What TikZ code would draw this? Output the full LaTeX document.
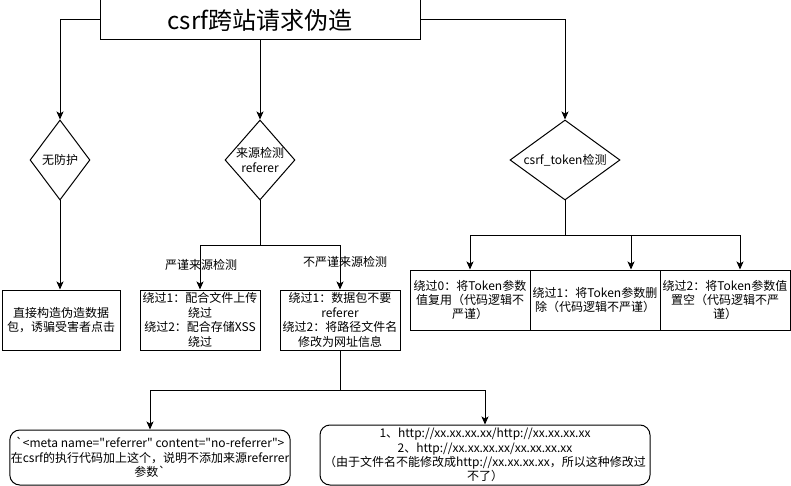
\documentclass[tikz,border=0pt]{standalone}
\usepackage{fontspec}
\setmainfont{Noto Sans CJK SC}[Ligatures=TeXOff]
\usepackage{tikz}
\usetikzlibrary{shapes.geometric,arrows.meta}
\tikzset{
	every node/.style = {
		font=\fontsize{12}{14.4}\selectfont,
		align=center,
		inner sep=1pt
	},
	box/.style = {
		shape=rectangle,
		draw,
		line width=1pt,
		minimum height=60pt
	},
	roundbox/.style = {box, rounded corners=10pt},
	decision/.style = {
		shape=diamond,
		draw,
		line width=1pt,
		inner sep=0pt,
		minimum height=80pt
	},
	link/.style = {line width=1pt, -{Stealth[length=8pt,width=7pt,inset=2pt]}},
	branch/.style = {line width=1pt}
}

\begin{document}
\begin{tikzpicture}[x=1pt, y=-1pt]
	\useasboundingbox (0,0) rectangle (791,486);
	\node[box, minimum width=320pt, minimum height=40pt, font=\fontsize{24}{28}\selectfont] (title) at (260,20) {csrf跨站请求伪造};
	\node[decision, minimum width=60pt, label=center:无防护] (noguard) at (60,160) {};
	\node[decision, minimum width=70pt, label={[align=center]center:来源检测\\referer}] (referer) at (260,160) {};
	\node[decision, minimum width=110pt, label=center:csrf\_token检测] (token) at (565,160) {};
	\node[box, minimum width=118pt] (direct) at (61,320) {直接构造伪造数据\\包，诱骗受害者点击};
	\node[box, minimum width=120pt] (strict) at (200,320) {绕过1：配合文件上传\\绕过\\绕过2：配合存储XSS\\绕过};
	\node[box, minimum width=120pt] (loose) at (340,320) {绕过1：数据包不要\\referer\\绕过2：将路径文件名\\修改为网址信息};
	\node[box, minimum width=120pt] (reuse) at (470,300) {绕过0：将Token参数\\值复用（代码逻辑不\\严谨）};
	\node[box, minimum width=130pt] (remove) at (595,300) {绕过1：将Token参数删\\除（代码逻辑不严谨）};
	\node[box, minimum width=130pt] (blank) at (725,300) {绕过2：将Token参数值\\置空（代码逻辑不严\\谨）};
	\node[roundbox, minimum width=280pt, minimum height=55pt] (meta) at (150,457.5) {`<meta name="referrer" content="no-referrer">\\在csrf的执行代码加上这个，说明不添加来源referrer\\参数`};
	\node[roundbox, minimum width=330pt] (url) at (485,455) {1、http://xx.xx.xx.xx/http://xx.xx.xx.xx\\2、http://xx.xx.xx.xx/xx.xx.xx.xx\\（由于文件名不能修改成http://xx.xx.xx.xx，所以这种修改过\\不了）};
	\draw[link] (title.west) -| (noguard.north);
	\draw[link] (title.south) -- (referer.north);
	\draw[link] (title.east) -| (token.north);
	\draw[link] (noguard.south) -- (noguard.south |- direct.north);
	\coordinate (rsplit) at (260,245);
	\draw[branch] (referer.south) -- (rsplit);
	\draw[link] (rsplit) -| (strict.north);
	\draw[link] (rsplit) -| (loose.north);
	\node (strictlbl) at (201,265) {严谨来源检测};
	\node (looselbl) at (345,262) {不严谨来源检测};
	\coordinate (tsplit) at (565,235);
	\draw[branch] (token.south) -- (tsplit);
	\draw[link] (tsplit) -| (reuse.north);
	\draw[link] (tsplit) -| ([xshift=36pt]remove.north);
	\draw[link] (tsplit) -| ([xshift=15pt]blank.north);
	\coordinate (lsplit) at (340,390);
	\draw[branch] (loose.south) -- (lsplit);
	\draw[link] (lsplit) -| (meta.north);
	\draw[link] (lsplit) -| (url.north);
\end{tikzpicture}
\end{document}
